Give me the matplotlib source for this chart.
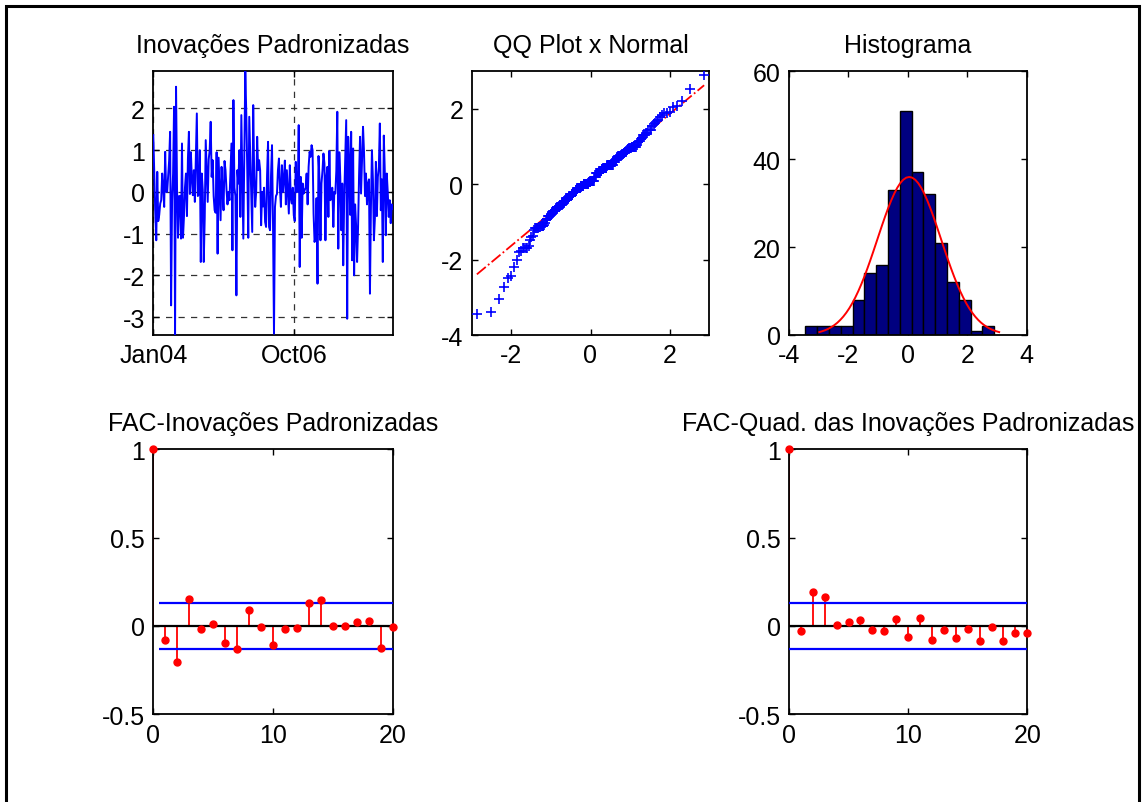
import matplotlib
matplotlib.use('Agg')
import matplotlib.pyplot as plt
from matplotlib.patches import Rectangle
import numpy as np
import pandas as pd
from statistics import NormalDist

plt.rcParams['font.family'] = ['Liberation Sans', 'DejaVu Sans']
plt.rcParams['font.size'] = 18
plt.rcParams['axes.unicode_minus'] = False

# standardized innovations, weekly
innov = [
    1.36, 0.44, -0.5, -1.16, 0.48, -0.7, -0.55, -0.28, -0.2, 0.44,
    0.1, -0.36, 0.96, 0.0, 0.0, 0.36, 0.75, 1.44, -2.72, -0.2,
    0.44, 2.04, -3.43, 2.52, 0.05, -1.1, -0.1, -0.1, -1.12, 1.16,
    -1.1, -0.6, 0.1, 0.44, -0.58, 0.8, 1.44, -0.05, 0.95, 0.3,
    -0.08, 0.52, -0.24, 0.85, 1.88, -0.1, -0.05, 1.0, -1.68, 0.44,
    0.05, -1.68, -0.62, 1.24, 0.5, -0.24, 0.78, 1.0, 1.68, 0.36,
    0.76, -0.1, -0.44, -0.5, 0.95, -1.48, 0.82, 0.1, -0.68, 0.6,
    0.0, -0.44, 0.74, 0.52, 0.05, -0.3, 0.0, -0.2, 0.5, 1.16,
    -1.4, 2.2, 0.1, -0.1, -2.48, 0.52, 0.2, 1.0, -0.6, 1.84,
    0.3, -1.12, 1.0, 2.89, 1.88, 0.5, -1.1, 1.8, 0.88, -0.1,
    -0.96, 2.08, 0.4, -0.36, 0.0, 1.32, 0.52, 0.76, 0.52, -0.8,
    0.0, -0.35, 0.1, -0.72, -0.84, 0.4, 1.2, -0.84, -0.92, 0.4,
    1.12, -0.76, -3.4, -0.36, -0.1, -0.05, 0.52, 0.8, 0.1, -0.36,
    0.64, 0.0, 0.3, 0.75, -0.3, 0.52, 0.0, -0.52, 0.64, -0.16,
    -0.28, 0.1, -0.56, -0.7, 0.72, 0.0, 0.0, 1.6, -1.8, 0.36,
    -1.1, 0.2, -0.04, 0.04, 0.1, 0.44, -0.3, 0.6, 0.96, 0.84,
    1.12, 1.0, -0.52, -1.2, -1.08, -0.15, -2.2, 0.86, 0.3, -1.16,
    0.2, 0.5, 0.92, 0.68, -1.16, 0.36, 0.6, -0.6, 0.98, -0.2,
    0.05, 0.1, -0.84, 0.0, -0.04, 0.5, 1.92, -1.36, 0.95, 0.36,
    -0.92, 0.2, -1.76, -0.12, 0.8, 1.72, -3.04, 1.32, 0.7, -0.55,
    1.44, -1.64, 1.04, -2.0, -0.3, -0.8, -1.68, -0.84, 0.4, 1.32,
    -0.04, 0.78, 1.56, 0.96, -0.1, 0.44, -0.3, 0.2, 0.3, -2.44,
    -0.36, 1.0, 0.3, -1.16, -0.64, 0.72, -0.58, 0.36, 0.6, 1.64,
    -0.44, 0.3, -1.68, 1.35, 0.5, -1.04, 0.44, 0.0, -0.6, -0.2,
    -0.75, -0.3, -0.4,
]
dates = pd.date_range('2004-01-07', periods=len(innov), freq='7D')
date_ticks = pd.to_datetime(['2004-01-07', '2006-10-01'])
date_labels = ['Jan04', 'Oct06']

# histogram (16 bins) and fitted normal
hist_counts = [2, 2, 2, 2, 8, 14, 16, 33, 51, 37, 32, 21, 12, 8, 1, 2]
hist_lo, hist_hi = -3.45, 2.90
fit_mu, fit_sigma = 0.045, 1.07
fit_lo, fit_hi = -2.98, 3.07

# autocorrelations, lags 0..20
acf_innov = [1.0, -0.079, -0.202, 0.153, -0.019, 0.013, -0.096, -0.13, 0.092, -0.004,
             -0.108, -0.019, -0.013, 0.128, 0.147, 0.002, 0.002, 0.023, 0.028, -0.123, -0.008]
acf_sq = [1.0, -0.028, 0.19, 0.162, 0.006, 0.023, 0.032, -0.024, -0.028, 0.038,
          -0.064, 0.047, -0.079, -0.024, -0.07, -0.015, -0.083, -0.004, -0.083, -0.038, -0.039]
conf_bound = 0.128

W, H = 1144, 803
fig = plt.figure(figsize=(W / 100, H / 100), dpi=100)


def px_axes(x0, y0, x1, y1):
    return fig.add_axes([x0 / W, 1 - y1 / H, (x1 - x0) / W, (y1 - y0) / H])


def matlab_style(ax):
    ax.tick_params(direction='in', top=True, right=True, length=4, width=1,
                   pad=6, labelsize=18, colors='k')
    for s in ax.spines.values():
        s.set_linewidth(1.3)


ax1 = px_axes(153.3, 72.3, 392.7, 336)
ax2 = px_axes(471.7, 72.3, 709.3, 336)
ax3 = px_axes(789, 72.3, 1026.8, 336)
ax4 = px_axes(153.3, 450.3, 392.7, 715.3)
ax5 = px_axes(789, 450.3, 1027.3, 715.3)
for ax in (ax1, ax2, ax3, ax4, ax5):
    matlab_style(ax)

# 1) time series
ax1.plot(dates, innov, color='#0000ff', lw=1.4, zorder=3)
ax1.set_xlim(dates[0], dates[-1])
ax1.set_ylim(min(innov), max(innov))
ax1.set_xticks(date_ticks)
ax1.set_xticklabels(date_labels)
ax1.set_yticks([-3, -2, -1, 0, 1, 2])
ax1.grid(True, ls=(0, (5, 5)), color='0.2', lw=0.9)
ax1.set_title('Inovações Padronizadas', fontsize=18, pad=14)

# 2) QQ plot
srt = np.sort(innov)
n = len(srt)
nd = NormalDist()
theo = np.array([nd.inv_cdf((k - 0.5) / n) for k in range(1, n + 1)])
q1x, q3x = nd.inv_cdf(0.25), nd.inv_cdf(0.75)
q1y, q3y = np.percentile(srt, [25, 75])
slope = (q3y - q1y) / (q3x - q1x)
ext = np.array([theo[0], theo[-1]])
ax2.plot(ext, q1y + slope * (ext - q1x), color='r', lw=1.3, ls='-.', zorder=2)
ax2.plot([q1x, q3x], [q1y, q3y], color='r', lw=1.3, zorder=2)
ax2.plot(theo, srt, '+', color='#0000ff', ms=7, mew=1.2, zorder=3)
ax2.set_xlim(-3, 3)
ax2.set_ylim(-4, 3)
ax2.set_xticks([-2, 0, 2])
ax2.set_yticks([-4, -2, 0, 2])
ax2.set_title('QQ Plot x Normal', fontsize=18, pad=14)

# 3) histogram
edges = np.linspace(hist_lo, hist_hi, len(hist_counts) + 1)
bw = edges[1] - edges[0]
ax3.bar(edges[:-1], hist_counts, width=bw, align='edge', color='#000080',
        edgecolor='k', lw=1.0, zorder=2)
xs = np.linspace(fit_lo, fit_hi, 61)
ys = [sum(hist_counts) * bw * NormalDist(fit_mu, fit_sigma).pdf(v) for v in xs]
ax3.plot(xs, ys, color='r', lw=1.4, zorder=3)
ax3.set_xlim(-4, 4)
ax3.set_ylim(0, 60)
ax3.set_xticks([-4, -2, 0, 2, 4])
ax3.set_yticks([0, 20, 40, 60])
ax3.set_title('Histograma', fontsize=18, pad=14)


# 4,5) autocorrelation
def acf_panel(ax, vals, title, band_start):
    lags = np.arange(len(vals))
    ax.vlines(lags, 0, vals, color='r', lw=1.3, zorder=2)
    ax.plot(lags, vals, 'o', color='r', ms=5, zorder=4, clip_on=False)
    ax.hlines([conf_bound, -conf_bound], band_start, lags[-1], color='#0000ff', lw=1.6, zorder=3)
    ax.hlines(0, 0, lags[-1], color='k', lw=1.6, zorder=3)
    ax.set_xlim(0, lags[-1])
    ax.set_ylim(-0.5, 1)
    ax.set_xticks([0, 10, 20])
    ax.set_yticks([-0.5, 0, 0.5, 1])
    ax.set_yticklabels(['-0.5', '0', '0.5', '1'])
    ax.set_title(title, fontsize=18, pad=14)


acf_panel(ax4, acf_innov, 'FAC-Inovações Padronizadas', 0.5)
acf_panel(ax5, acf_sq, 'FAC-Quad. das Inovações Padronizadas', 0.0)

# figure frame (bottom edge falls outside the picture)
fig.add_artist(Rectangle((1141 / W, 0), 3 / W, 1, transform=fig.transFigure,
                         facecolor='white', edgecolor='none', zorder=9))
fig.add_artist(Rectangle((6 / W, -0.05), (1139 - 6) / W, 1.05 - 7 / H,
                         transform=fig.transFigure, fill=False, edgecolor='k',
                         lw=2.2, zorder=10))

fig.savefig('out.png', dpi=100)
